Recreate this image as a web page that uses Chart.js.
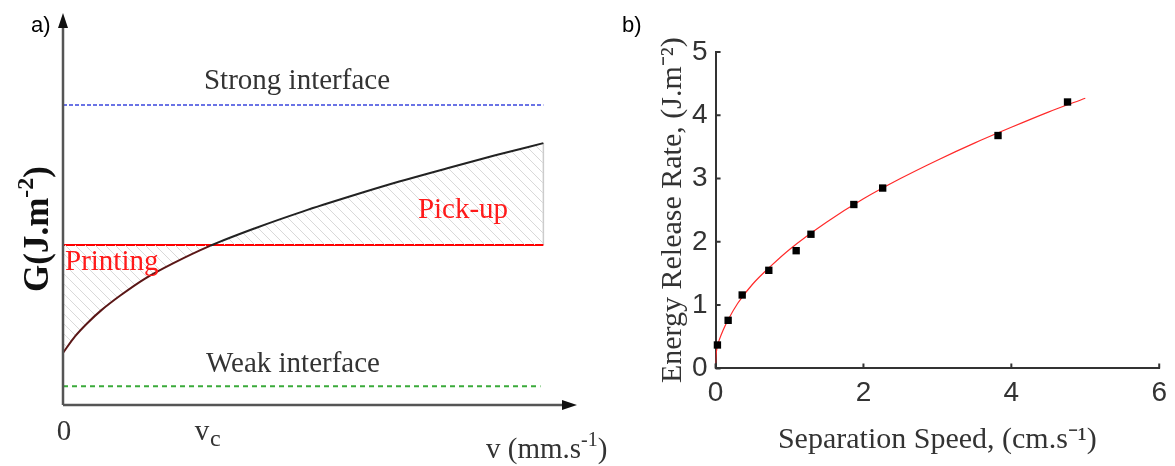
<!DOCTYPE html>
<html>
<head>
<meta charset="utf-8">
<script src="https://cdn.jsdelivr.net/npm/chart.js@4.4.0/dist/chart.umd.min.js"></script>
<style>
  html, body { margin: 0; padding: 0; background: #fff; }
  #wrap { position: relative; width: 1175px; height: 466px; overflow: hidden; }
  #schematic { position: absolute; left: 0; top: 0; }
  #measured { position: absolute; left: 600px; top: 0; }
</style>
</head>
<body>
<div id="wrap">
  <canvas id="schematic" width="625" height="466"></canvas>
  <canvas id="measured" width="575" height="466"></canvas>
</div>
<script>
// panel a: schematic G(v), arbitrary units
const curveV = [0, 0.25, 0.5, 0.8, 1.2, 1.7, 2.3, 3.06, 4.0, 5.0, 6.0, 7.0, 8.0, 9.0, 10];
const curveG = [1.33, 1.75, 2.08, 2.42, 2.8, 3.22, 3.62, 4.06, 4.51, 4.94, 5.33, 5.7, 6.04, 6.37, 6.68];
const gStrong = 7.65;
const gPrint = 4.08;
const gWeak = 0.48;
const vEnd = 10;
const vWeakEnd = 9.94;
const vCross = 3.1;

// panel b: measured energy release rate
const speed = [0.025, 0.17, 0.36, 0.72, 1.09, 1.29, 1.87, 2.26, 3.82, 4.76];
const energy = [0.37, 0.76, 1.16, 1.55, 1.86, 2.12, 2.59, 2.85, 3.68, 4.21];
const fitSpeed = [0, 0.01, 0.025, 0.05, 0.1, 0.17, 0.3, 0.5, 0.75, 1.0, 1.5, 2.0, 2.5, 3.0, 3.5, 4.0, 4.5, 5.0];
const fitEnergy = [0.08, 0.25, 0.35, 0.45, 0.6, 0.77, 1.03, 1.33, 1.62, 1.88, 2.31, 2.68, 3.0, 3.29, 3.56, 3.81, 4.05, 4.27];
const speedTicks = [0, 2, 4, 6];
const energyTicks = [0, 1, 2, 3, 4, 5];

const pts = (xs, ys) => xs.map((v, i) => ({ x: v, y: ys[i] }));

function hatchPattern() {
    const c = document.createElement('canvas');
    c.width = 10; c.height = 10;
    const g = c.getContext('2d');
    g.strokeStyle = '#d9d9d9';
    g.lineWidth = 1;
    g.beginPath();
    g.moveTo(0, 0); g.lineTo(10, 10);
    g.moveTo(-5, 5); g.lineTo(5, 15);
    g.moveTo(5, -5); g.lineTo(15, 5);
    g.stroke();
    return g.createPattern(c, 'repeat');
}

// superscripts written as separate smaller text
function drawSup(ctx, parts, x, y) {
    parts.forEach(([txt, font, dy]) => {
        ctx.font = font;
        ctx.fillText(txt, x, y + dy);
        x += ctx.measureText(txt).width;
    });
}

const schematicDecor = {
    id: 'schematicDecor',
    afterDraw(chart) {
        const { ctx, chartArea: a, scales: { x, y } } = chart;
        const x0 = x.getPixelForValue(0), y0 = y.getPixelForValue(0);
        ctx.save();
        // axes with arrows
        ctx.strokeStyle = '#555';
        ctx.lineWidth = 2.5;
        ctx.beginPath();
        ctx.moveTo(x0, y0); ctx.lineTo(x0, a.top + 10);
        ctx.moveTo(x0, y0); ctx.lineTo(a.right - 10, y0);
        ctx.stroke();
        ctx.fillStyle = '#111';
        ctx.beginPath();
        ctx.moveTo(x0, a.top); ctx.lineTo(x0 - 5, a.top + 15); ctx.lineTo(x0 + 5, a.top + 15); ctx.closePath();
        ctx.moveTo(a.right, y0); ctx.lineTo(a.right - 15, y0 - 5); ctx.lineTo(a.right - 15, y0 + 5); ctx.closePath();
        ctx.fill();

        const serif = '29px "Liberation Serif"';
        ctx.textBaseline = 'alphabetic';
        ctx.fillStyle = '#333';
        ctx.font = serif;
        ctx.textAlign = 'center';
        ctx.fillText('Strong interface', 297, 89);
        ctx.fillText('Weak interface', 293, 372);
        ctx.fillText('0', 64, 440);
        ctx.fillText('v', x.getPixelForValue(vCross) - 10, 440);
        ctx.textAlign = 'left';
        ctx.font = '24px "Liberation Serif"';
        ctx.fillText('c', x.getPixelForValue(vCross) - 2, 446);
        drawSup(ctx, [['v (mm.s', serif, 0], ['-1', '20px "Liberation Serif"', -12], [')', serif, 0]], 486, 458);

        ctx.fillStyle = '#ff1a1a';
        ctx.font = serif;
        ctx.textAlign = 'center';
        ctx.fillText('Pick-up', 463, 218);
        ctx.textAlign = 'left';
        ctx.fillText('Printing', 65, 270);

        ctx.fillStyle = '#111';
        ctx.font = 'bold 35px "Liberation Serif"';
        const gw = ctx.measureText('G(J.m').width;
        ctx.font = 'bold 24px "Liberation Serif"';
        const sw = ctx.measureText('-2').width;
        ctx.font = 'bold 35px "Liberation Serif"';
        const tw = gw + sw + ctx.measureText(')').width;
        ctx.translate(48, 229 + tw / 2);
        ctx.rotate(-Math.PI / 2);
        drawSup(ctx, [['G(J.m', 'bold 35px "Liberation Serif"', 0], ['-2', 'bold 24px "Liberation Serif"', -15], [')', 'bold 35px "Liberation Serif"', 0]], 0, 0);
        ctx.restore();

        ctx.save();
        ctx.fillStyle = '#000';
        ctx.font = '22px "Liberation Sans"';
        ctx.fillText('a)', 31, 32);
        ctx.restore();
    }
};

new Chart(document.getElementById('schematic'), {
    type: 'scatter',
    data: {
        datasets: [{
            data: pts(curveV, curveG),
            showLine: true,
            borderColor: '#222',
            borderWidth: 2,
            pointRadius: 0,
            cubicInterpolationMode: 'monotone',
            fill: '+1',
            backgroundColor: hatchPattern(),
            segment: {
                borderColor: c => c.p1.parsed.x <= vCross ? '#5a1616' : '#222'
            }
        }, {
            data: [{ x: 0, y: gPrint }, { x: vEnd, y: gPrint }],
            showLine: true,
            borderColor: '#ff0000',
            borderWidth: 2,
            pointRadius: 0
        }, {
            data: [{ x: 0, y: gStrong }, { x: vEnd, y: gStrong }],
            showLine: true,
            borderColor: '#3a46dd',
            borderWidth: 1.5,
            borderDash: [4, 2],
            pointRadius: 0
        }, {
            data: [{ x: 0, y: gWeak }, { x: vWeakEnd, y: gWeak }],
            showLine: true,
            borderColor: '#3aaa3a',
            borderWidth: 2,
            borderDash: [5, 4],
            pointRadius: 0
        }, {
            data: [{ x: vEnd, y: gPrint }, { x: vEnd, y: curveG[curveG.length - 1] }],
            showLine: true,
            borderColor: '#cccccc',
            borderWidth: 1.5,
            pointRadius: 0
        }]
    },
    options: {
        responsive: false,
        animation: false,
        layout: { padding: { left: 63, right: 48, top: 13, bottom: 61 } },
        plugins: { legend: { display: false }, tooltip: { enabled: false } },
        scales: {
            x: { type: 'linear', display: false, min: 0, max: 10.7 },
            y: { type: 'linear', display: false, min: 0, max: 10 }
        }
    },
    plugins: [schematicDecor]
});

const inwardTicks = {
    id: 'inwardTicks',
    afterDraw(chart) {
        const { ctx, chartArea: a, scales: { x, y } } = chart;
        ctx.save();
        ctx.strokeStyle = '#333';
        ctx.lineWidth = 2;
        ctx.beginPath();
        x.ticks.forEach(t => {
            const px = x.getPixelForValue(t.value);
            ctx.moveTo(px, a.bottom); ctx.lineTo(px, a.bottom - 5);
        });
        y.ticks.forEach(t => {
            const py = y.getPixelForValue(t.value);
            ctx.moveTo(a.left, py); ctx.lineTo(a.left + 5, py);
        });
        ctx.stroke();
        ctx.fillStyle = '#000';
        ctx.font = '22px "Liberation Sans"';
        ctx.fillText('b)', 22, 32);
        ctx.restore();
    }
};

const tickFont = { family: 'Liberation Sans', size: 28 };
const titleFont = { family: 'Liberation Serif', size: 30, lineHeight: 1.0 };

new Chart(document.getElementById('measured'), {
    type: 'scatter',
    data: {
        datasets: [{
            data: pts(speed, energy),
            pointStyle: 'rect',
            pointRadius: 5.2,
            backgroundColor: '#000',
            borderColor: '#000',
            borderWidth: 0,
            clip: false
        }, {
            data: pts(fitSpeed, fitEnergy),
            showLine: true,
            borderColor: '#ff2a2a',
            borderWidth: 1.2,
            pointRadius: 0,
            cubicInterpolationMode: 'monotone'
        }]
    },
    options: {
        responsive: false,
        animation: false,
        layout: { padding: { left: 56, right: 13, top: 52, bottom: 9 } },
        plugins: { legend: { display: false }, tooltip: { enabled: false } },
        scales: {
            x: {
                type: 'linear', min: 0, max: 6,
                afterBuildTicks: s => { s.ticks = speedTicks.map(v => ({ value: v })); },
                grid: { display: false, drawTicks: false },
                border: { color: '#333', width: 2 },
                ticks: { font: tickFont, color: '#333', padding: 8 },
                title: { display: true, text: 'Separation Speed, (cm.s⁻¹)', font: titleFont, color: '#333', padding: { top: 7, bottom: 2 } }
            },
            y: {
                type: 'linear', min: 0, max: 5,
                afterBuildTicks: s => { s.ticks = energyTicks.map(v => ({ value: v })); },
                grid: { display: false, drawTicks: false },
                border: { color: '#333', width: 2 },
                ticks: { font: tickFont, color: '#333', padding: 8 },
                title: { display: true, text: 'Energy Release Rate, (J.m⁻²)', font: titleFont, color: '#333', padding: { top: 2, bottom: -4 } }
            }
        }
    },
    plugins: [inwardTicks]
});
</script>
</body>
</html>
